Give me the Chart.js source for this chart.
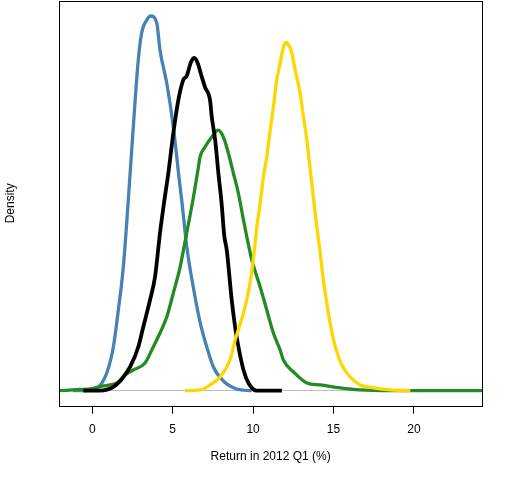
<!DOCTYPE html>
<html>
<head>
<meta charset="utf-8">
<script src="https://cdn.jsdelivr.net/npm/chart.js@4/dist/chart.umd.min.js"></script>
<style>
html,body{margin:0;padding:0;background:#fff;}
#wrap{width:512px;height:480px;}
</style>
</head>
<body>
<div id="wrap"><canvas id="c" width="512" height="480"></canvas></div>
<script>
// ---- data ----
const xTicks = [0, 5, 10, 15, 20];
const xTitle = 'Return in 2012 Q1 (%)';
const yTitle = 'Density';

const blueX = [-1.20,-0.56,0.37,0.90,1.31,1.62,1.93,2.24,2.55,2.86,3.07,3.39,3.63,4.01,4.21,4.63,5.04,5.46,5.56,5.87,6.29,6.70,7.12,7.53,8.15,8.99,9.92];
const blueY = [0,0,0.0030,0.0142,0.0350,0.0646,0.0990,0.1527,0.2111,0.2648,0.2864,0.2968,0.3000,0.2944,0.2728,0.2463,0.2111,0.1631,0.1527,0.1159,0.0822,0.0550,0.0350,0.0190,0.0078,0.0014,0];

const blackX = [-0.56,0.48,1.31,1.93,2.35,2.86,3.17,3.59,3.90,4.21,4.46,4.73,5.04,5.35,5.66,5.87,6.14,6.35,6.55,6.81,7.01,7.32,7.43,7.64,7.84,8.05,8.20,8.36,8.67,8.88,9.09,9.40,9.71,10.23,11.79];
const blackY = [0,0,0.0030,0.0110,0.0190,0.0350,0.0510,0.0726,0.0910,0.1263,0.1503,0.1743,0.2063,0.2327,0.2488,0.2520,0.2632,0.2664,0.2624,0.2512,0.2431,0.2327,0.2191,0.2007,0.1743,0.1487,0.1247,0.1126,0.0726,0.0510,0.0350,0.0166,0.0062,0,0];

const greenX = [-2.05,-0.77,-0.14,0.68,1.10,1.52,1.72,2.03,2.55,3.28,3.70,4.21,4.63,5.04,5.46,5.87,6.28,6.60,6.70,7.01,7.43,7.84,8.15,8.46,8.77,9.08,9.40,9.61,9.92,10.44,10.85,11.26,11.68,11.88,12.51,13.34,14.17,15.41,16.66,18.52,24.25];
const greenY = [0,0.0010,0.0014,0.0038,0.0046,0.0062,0.0072,0.0126,0.0166,0.0222,0.0326,0.0462,0.0590,0.0782,0.0990,0.1263,0.1543,0.1791,0.1871,0.1951,0.2031,0.2087,0.2031,0.1903,0.1743,0.1583,0.1367,0.1231,0.1047,0.0830,0.0646,0.0462,0.0326,0.0246,0.0150,0.0062,0.0046,0.0022,0.0006,0,0];

const goldX = [5.77,6.70,7.32,7.94,8.56,8.88,9.40,9.81,10.13,10.23,10.44,10.64,10.85,11.06,11.26,11.47,11.68,11.87,12.05,12.24,12.41,12.61,12.92,13.13,13.34,13.55,13.75,13.96,14.17,14.37,14.58,14.79,15.00,15.31,15.62,16.03,16.66,17.49,18.53,19.77];
const goldY = [0,0.0006,0.0046,0.0110,0.0246,0.0406,0.0622,0.0862,0.1182,0.1311,0.1503,0.1711,0.1871,0.2087,0.2271,0.2488,0.2624,0.2744,0.2788,0.2760,0.2704,0.2568,0.2384,0.2191,0.2007,0.1767,0.1543,0.1311,0.1103,0.0886,0.0702,0.0542,0.0406,0.0270,0.0182,0.0110,0.0046,0.0022,0.0006,0];

const xMin = -2.05, xMax = 24.23;
const yMin = -0.012, yMax = 0.312;

function pts(xs, ys){ return xs.map((x,i)=>({x:x, y:ys[i]})); }

const boxPlugin = {
  id: 'box',
  afterDraw(chart){
    const a = chart.chartArea, ctx = chart.ctx;
    ctx.save();
    ctx.strokeStyle = '#000';
    ctx.lineWidth = 1;
    ctx.strokeRect(Math.round(a.left)+0.5, Math.round(a.top)+0.5, Math.round(a.right-a.left), Math.round(a.bottom-a.top));
    ctx.restore();
  }
};

const font = {family: '"Liberation Sans", Arial, sans-serif', size: 12};
const ds = (data, color, w) => ({data, borderColor: color, borderWidth: w, pointRadius: 0, fill: false, cubicInterpolationMode: 'monotone'});

new Chart(document.getElementById('c'), {
  type: 'line',
  data: {
    datasets: [
      ds(pts(goldX, goldY), '#FFD700', 3.3),
      ds(pts(blackX, blackY), '#000000', 3.8),
      ds(pts(greenX, greenY), '#228B22', 3.3),
      ds(pts(blueX, blueY), '#4682B4', 3.3)
    ]
  },
  options: {
    responsive: false,
    animation: false,
    layout: {padding: {top: 1, right: 30, left: 0, bottom: 0}},
    plugins: {legend: {display: false}, tooltip: {enabled: false}},
    scales: {
      x: {
        type: 'linear', min: xMin, max: xMax,
        afterBuildTicks: ax => { ax.ticks = xTicks.map(v => ({value: v})); },
        afterFit: ax => { ax.height = 74.3; },
        ticks: {font, color: '#000', padding: 9, maxRotation: 0, autoSkip: false},
        grid: {display: true, drawOnChartArea: false, drawTicks: true, tickLength: 8, tickColor: '#000', tickWidth: 1},
        border: {display: false},
        title: {display: true, text: xTitle, font, color: '#000', padding: {top: 4, bottom: 16}}
      },
      y: {
        type: 'linear', min: yMin, max: yMax,
        afterBuildTicks: ax => { ax.ticks = [{value: 0}]; },
        afterFit: ax => { ax.width = 59.3; },
        ticks: {display: false},
        grid: {display: true, drawOnChartArea: true, drawTicks: false, color: '#BEBEBE', lineWidth: 1},
        border: {display: false},
        title: {display: true, text: yTitle, font, color: '#000', padding: {top: 3, bottom: 3}}
      }
    }
  },
  plugins: [boxPlugin]
});
</script>
</body>
</html>
